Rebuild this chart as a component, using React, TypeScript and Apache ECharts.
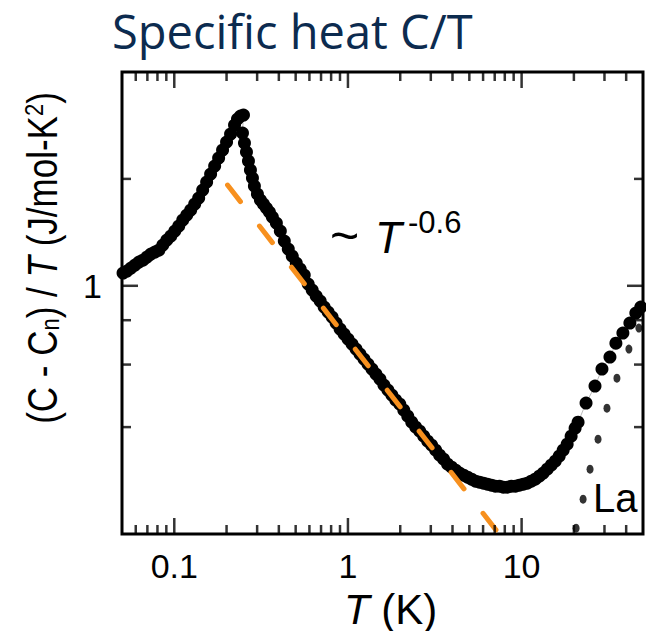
import React, { useEffect, useRef } from 'react';
import * as echarts from 'echarts';

// axis ranges (log scales)
const X_RANGE = [0.05, 50];
const Y_RANGE = [0.2, 4];
const X_MAJOR = [0.1, 1, 10];
const X_MINOR = [0.06, 0.07, 0.08, 0.09, 0.2, 0.3, 0.4, 0.5, 0.6, 0.7, 0.8, 0.9, 2, 3, 4, 5, 6, 7, 8, 9, 20, 30, 40];
const Y_MAJOR = [1];
const Y_MINOR = [0.4, 0.6, 0.8, 2];

// (C - Cn)/T data, [T (K), value]
const RISING: [number, number][] = [
  [0.0507, 1.086], [0.0534, 1.1], [0.0563, 1.122], [0.0594, 1.144], [0.0626, 1.166], [0.066, 1.181],
  [0.0696, 1.205], [0.0733, 1.228], [0.0773, 1.244], [0.0815, 1.26], [0.0859, 1.302], [0.0906, 1.345],
  [0.0955, 1.38], [0.1007, 1.426], [0.1061, 1.473], [0.1119, 1.531], [0.118, 1.582], [0.1243, 1.634],
  [0.1311, 1.699], [0.1382, 1.766], [0.1457, 1.86], [0.1536, 1.96], [0.1619, 2.064], [0.1708, 2.174],
  [0.18, 2.289], [0.1897, 2.412], [0.2, 2.54], [0.2109, 2.675], [0.2223, 2.836], [0.2312, 2.948],
  [0.2406, 3.006], [0.2503, 3.026],
];
const FALLING: [number, number][] = [
  [0.247, 2.693], [0.2536, 2.523], [0.2604, 2.38], [0.2674, 2.245], [0.2745, 2.118], [0.2819, 2.011],
  [0.2893, 1.909], [0.3011, 1.813], [0.3133, 1.743], [0.326, 1.699], [0.3392, 1.655], [0.3529, 1.613],
  [0.3671, 1.562], [0.3871, 1.502], [0.408, 1.426], [0.4301, 1.336], [0.4534, 1.269], [0.4781, 1.212],
  [0.504, 1.159], [0.5313, 1.114], [0.5602, 1.072], [0.5905, 1.011], [0.6226, 0.9725], [0.6564, 0.9354],
  [0.6921, 0.9055], [0.7295, 0.871], [0.7689, 0.8432], [0.8106, 0.8164], [0.8547, 0.7852], [0.9012, 0.7551],
  [0.9499, 0.7311], [1.001, 0.7078], [1.056, 0.6852], [1.113, 0.6634], [1.173, 0.6423], [1.237, 0.6219],
  [1.304, 0.6019], [1.375, 0.5827], [1.449, 0.5641], [1.528, 0.5461], [1.611, 0.5253], [1.698, 0.5085],
  [1.79, 0.4922], [1.887, 0.4764], [1.99, 0.4642], [2.098, 0.4465], [2.211, 0.4295], [2.331, 0.413],
  [2.458, 0.3999], [2.591, 0.3897], [2.732, 0.3772], [2.88, 0.3652], [3.035, 0.3558], [3.201, 0.3445],
  [3.374, 0.3335], [3.556, 0.3249], [3.75, 0.3146], [3.953, 0.3085], [4.168, 0.3026], [4.393, 0.2968],
  [4.632, 0.2929], [4.883, 0.2891], [5.147, 0.2854], [5.427, 0.2817], [5.721, 0.2799], [6.031, 0.2781],
  [6.358, 0.2763], [6.704, 0.2745], [7.067, 0.2728], [7.452, 0.2728], [7.855, 0.271], [8.279, 0.271],
  [8.73, 0.2728], [9.204, 0.2728], [9.701, 0.2745], [10.23, 0.2763], [10.78, 0.2781], [11.37, 0.2817],
  [11.98, 0.2854], [12.64, 0.291], [13.32, 0.2968], [14.04, 0.3045], [14.8, 0.3125], [15.61, 0.3207],
  [16.45, 0.3313], [17.34, 0.3445], [18.29, 0.3581], [19.28, 0.3772], [20.32, 0.3972], [21.14, 0.413],
];
const UPTURN: [number, number][] = [
  [23.5, 0.4673], [26.46, 0.5219], [29.02, 0.5827], [32.26, 0.63], [34.91, 0.6895], [38.3, 0.7358],
  [42.02, 0.7852], [45.47, 0.8378], [48.57, 0.871],
];
// La reference compound
const LA: [number, number][] = [
  [20.59, 0.2077], [22.59, 0.2506], [24.77, 0.3045], [27.54, 0.37], [31.0, 0.4522], [35.38, 0.5495],
  [41.46, 0.6634], [47.31, 0.76],
];
// ~T^-0.6 guide line end points
const FIT: [number, number][] = [[0.2026, 1.922], [7.355, 0.2011]];

const SANS = '"Liberation Sans", Arial, sans-serif';

export default function App() {
  const ref = useRef<HTMLDivElement>(null);
  useEffect(() => {
    document.body.style.margin = '0';
    const chart = echarts.init(ref.current as HTMLDivElement, null, { renderer: 'svg' });
    const [xMin, xMax] = X_RANGE;
    const [yMin, yMax] = Y_RANGE;
    const tick = (data: number[][], size: number[], offset: (string | number)[]) => ({
      type: 'scatter',
      data,
      symbol: 'rect',
      symbolSize: size,
      symbolOffset: offset,
      itemStyle: { color: '#000' },
      silent: true,
      clip: false,
      z: 6,
    });
    const isMajor = (v: number, arr: number[]) => arr.find((m) => Math.abs(v - m) / m < 1e-6);
    const option: any = {
      animation: false,
      backgroundColor: '#fff',
      grid: {
        left: 122, right: 1, top: 72, bottom: 97,
        show: true, borderColor: '#000', borderWidth: 3, backgroundColor: 'transparent',
      },
      xAxis: {
        type: 'log', logBase: 10, min: xMin, max: xMax,
        axisLine: { show: false }, axisTick: { show: false }, splitLine: { show: false },
        axisLabel: {
          fontSize: 34, lineHeight: 26, fontFamily: SANS, color: '#000', margin: 19,
          formatter: (v: number) => { const m = isMajor(v, X_MAJOR); return m ? String(m) : ''; },
        },
      },
      yAxis: {
        type: 'log', logBase: 10, min: yMin, max: yMax,
        axisLine: { show: false }, axisTick: { show: false }, splitLine: { show: false },
        axisLabel: {
          fontSize: 34, fontFamily: SANS, color: '#000', margin: 20,
          formatter: (v: number) => { const m = isMajor(v, Y_MAJOR); return m ? String(m) : ''; },
        },
      },
      series: [
        {
          type: 'line',
          data: [...RISING, ...FALLING, ...UPTURN],
          symbol: 'circle', symbolSize: 13, showAllSymbol: true,
          itemStyle: { color: '#000' },
          lineStyle: { color: '#aaa', width: 0.8 },
          clip: false, z: 2,
        },
        {
          type: 'scatter', data: LA, symbol: 'circle', symbolSize: [7, 9],
          itemStyle: { color: '#000' }, clip: false, z: 2,
        },
        {
          type: 'line', data: FIT, symbol: 'none',
          lineStyle: { color: '#f7901e', width: 5, type: [21, 31], cap: 'round' },
          z: 4,
        },
        tick(X_MAJOR.map((v) => [v, yMin]), [2.5, 16], [0, '-50%']),
        tick(X_MINOR.map((v) => [v, yMin]), [2.5, 9], [0, '-50%']),
        tick(X_MAJOR.map((v) => [v, yMax]), [2.5, 16], [0, '50%']),
        tick(X_MINOR.map((v) => [v, yMax]), [2.5, 9], [0, '50%']),
        tick(Y_MAJOR.map((v) => [xMin, v]), [16, 2.5], ['50%', 0]),
        tick(Y_MINOR.map((v) => [xMin, v]), [9, 2.5], ['50%', 0]),
        tick(Y_MAJOR.map((v) => [xMax, v]), [16, 2.5], ['-50%', 0]),
        tick(Y_MINOR.map((v) => [xMax, v]), [9, 2.5], ['-50%', 0]),
      ],
      graphic: [
        {
          type: 'text', x: 112, y: 31,
          style: { text: 'Specific heat C/T', fontSize: 47, fontFamily: '"Open Sans"', fill: '#0c2b4f', verticalAlign: 'middle' },
        },
        {
          type: 'text', x: 42, y: 258, rotation: Math.PI / 2, scaleY: 1.2,
          style: {
            text: '(C - C{sub|n}) / {it|T} (J/mol-K{sup|2})',
            fontSize: 35, fontFamily: SANS, fill: '#000', align: 'center', verticalAlign: 'middle',
            rich: {
              sub: { fontSize: 22, fontFamily: SANS, verticalAlign: 'bottom' },
              sup: { fontSize: 22, fontFamily: SANS, verticalAlign: 'top' },
              it: { fontSize: 35, fontFamily: SANS, fontStyle: 'italic' },
            },
          },
        },
        {
          type: 'text', x: 344, y: 609,
          style: {
            text: '{it|T} (K)', fontSize: 42, lineHeight: 32, fontFamily: SANS, fill: '#000', align: 'left', verticalAlign: 'middle',
            rich: { it: { fontSize: 42, lineHeight: 32, fontFamily: SANS, fontStyle: 'italic' } },
          },
        },
        { type: 'text', x: 330, y: 236, style: { text: '~', fontSize: 50, fontFamily: SANS, fill: '#000', verticalAlign: 'middle' } },
        { type: 'text', x: 375, y: 237, style: { text: 'T', fontSize: 44, fontStyle: 'italic', fontFamily: SANS, fill: '#000', verticalAlign: 'middle' } },
        { type: 'text', x: 408, y: 222, style: { text: '-0.6', fontSize: 31, fontFamily: SANS, fill: '#000', verticalAlign: 'middle' } },
        { type: 'text', x: 593, y: 498, style: { text: 'La', fontSize: 40, fontFamily: SANS, fill: '#000', verticalAlign: 'middle' } },
      ],
    };
    chart.setOption(option);
    return () => chart.dispose();
  }, []);
  return <div ref={ref} style={{ width: 646, height: 631 }} />;
}
